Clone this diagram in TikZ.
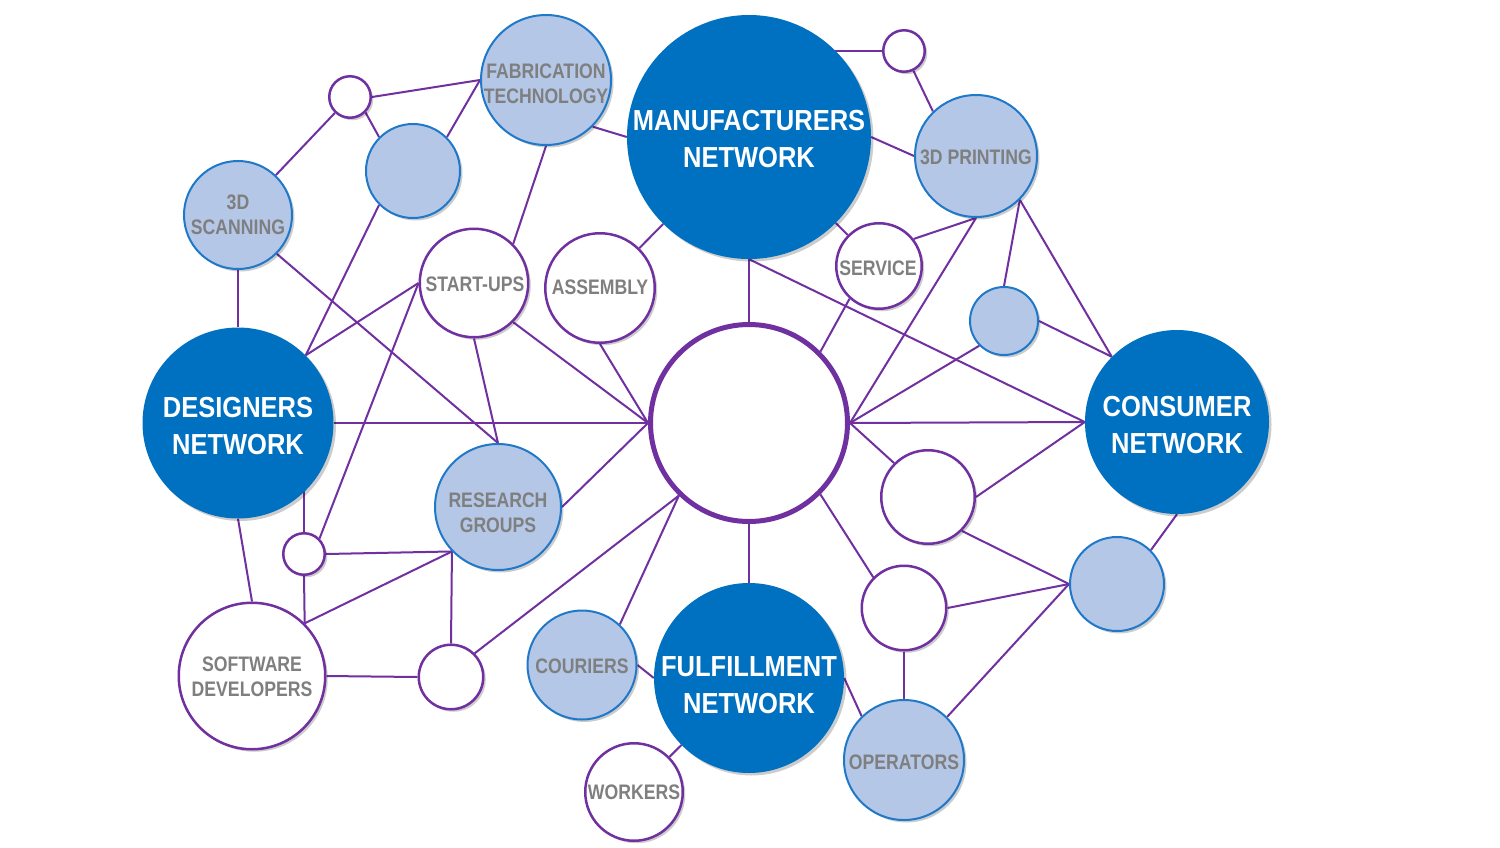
\documentclass[tikz,border=0pt]{standalone}
\usepackage{fontspec}
\setmainfont{Liberation Sans}
\newfontfamily\lblfont{Liberation Sans}[FakeStretch=0.84]
\newfontfamily\bigfont{Liberation Sans}[FakeStretch=0.88]
\usetikzlibrary{shadows,backgrounds}
\definecolor{dblue}{HTML}{0070C0}
\definecolor{lblue}{HTML}{B4C7E7}
\definecolor{lbord}{HTML}{1F78C8}
\definecolor{purp}{HTML}{7030A0}
\definecolor{gtext}{HTML}{7F7F7F}
\tikzset{
  shd/.style={drop shadow={shadow xshift=2.5pt,shadow yshift=-2.5pt,opacity=0.2,fill=black}},
  bigtxt/.style={inner sep=0pt, text=white, align=center,
    font=\bigfont\bfseries\fontsize{29}{37}\selectfont},
  smtxt/.style={inner sep=0pt, text=gtext, align=center,
    font=\lblfont\bfseries\fontsize{21}{25.5}\selectfont},
  bignet/.style={circle, fill=dblue, inner sep=0pt, shd},
  lbc/.style={circle, fill=lblue, draw=lbord, line width=2pt, inner sep=0pt, shd},
  wc/.style={circle, fill=white, draw=purp, line width=2.5pt, inner sep=0pt, shd},
  hubc/.style={circle, fill=white, draw=purp, line width=5pt, inner sep=0pt},
  link/.style={draw=purp, line width=2pt},
}
\begin{document}
\begin{tikzpicture}[x=1pt,y=-1pt]
\useasboundingbox (0,0) rectangle (1500,847);

% main network nodes
\node[bignet, minimum size=244, label={[bigtxt,yshift=-2pt]center:{MANUFACTURERS\\NETWORK}}] (MFG) at (749,137) {};
\node[bignet, minimum size=191, label={[bigtxt,yshift=-3pt]center:{DESIGNERS\\NETWORK}}] (DES) at (238,423) {};
\node[bignet, minimum size=184, label={[bigtxt,yshift=-3pt]center:{CONSUMER\\NETWORK}}] (CON) at (1177,422) {};
\node[bignet, minimum size=190, label={[bigtxt,yshift=-7pt]center:{FULFILLMENT\\NETWORK}}] (FUL) at (749,678) {};
\node[hubc, minimum size=197] (hub) at (749,423) {};

% light blue nodes
\node[lbc, minimum size=130, label={[smtxt,yshift=-4pt]center:{FABRICATION\\TECHNOLOGY}}] (FAB) at (546,80) {};
\node[lbc, minimum size=122, label={[smtxt,yshift=-1pt]center:{3D PRINTING}}] (P3D) at (976,156) {};
\node[lbc, minimum size=108, label={[smtxt]center:{3D\\SCANNING}}] (S3D) at (238,215) {};
\node[lbc, minimum size=94] (LB1) at (413,171) {};
\node[lbc, minimum size=68] (SLB) at (1004,321) {};
\node[lbc, minimum size=126, label={[smtxt,yshift=-6pt]center:{RESEARCH\\GROUPS}}] (RES) at (498,507) {};
\node[lbc, minimum size=109, label={[smtxt,yshift=-1pt]center:{COURIERS}}] (COU) at (582,665) {};
\node[lbc, minimum size=120, label={[smtxt,yshift=-2pt]center:{OPERATORS}}] (OPS) at (904,760) {};
\node[lbc, minimum size=94] (LBR) at (1117,584) {};

% white nodes
\node[wc, minimum size=41.5] (W5) at (350,97) {};
\node[wc, minimum size=41.5] (W1) at (904,51) {};
\node[wc, minimum size=41.5] (W4) at (304,554) {};
\node[wc, minimum size=64.5] (W3) at (451,677) {};
\node[wc, minimum size=108.5, label={[smtxt,xshift=1pt,yshift=-1pt]center:{START-UPS}}] (SU) at (474,283) {};
\node[wc, minimum size=109.5, label={[smtxt,yshift=1pt]center:{ASSEMBLY}}] (ASM) at (600,288) {};
\node[wc, minimum size=85.5, label={[smtxt,xshift=-1pt,yshift=-2pt]center:{SERVICE}}] (SERV) at (879,266) {};
\node[wc, minimum size=93.5] (WR) at (928,497) {};
\node[wc, minimum size=84.5] (W2) at (904,608) {};
\node[wc, minimum size=146.5, label={[smtxt,yshift=-1pt]center:{SOFTWARE\\DEVELOPERS}}] (SOFT) at (252,676) {};
\node[wc, minimum size=97.5, label={[smtxt]center:{WORKERS}}] (WORK) at (634,792) {};

\begin{scope}[on background layer]
\fill[white] (0,0) rectangle (1500,847);
\draw[link] (W1) -- (W1 -| MFG);
\draw[link] (W1) -- (P3D.134);
\draw[link] (MFG.east) -- (P3D.west);
\draw[link] (MFG) -- (hub);
\draw[link] (MFG.south) -- (CON.west);
\draw[link] (MFG) -- (ASM);
\draw[link] (MFG) -- (SERV);
\draw[link] (FAB.-45) -- (MFG.west);
\draw[link] (SERV.38) -- (P3D.south);
\draw[link] (SERV.228) -- (hub.45);
\draw[link] (P3D.south) -- (hub.east);
\draw[link] (P3D.-45) -- (SLB.north);
\draw[link] (P3D.-45) -- (CON.135);
\draw[link] (SLB.east) -- (CON.135);
\draw[link] (SLB.225) -- (hub.east);
\draw[link] (hub.east) -- (CON.west);
\draw[link] (hub.east) -- (WR.135);
\draw[link] (WR.east) -- (CON.west);
\draw[link] (WR.-45) -- (LBR.west);
\draw[link] (hub.-45) -- (W2.135);
\draw[link] (W2.east) -- (LBR.west);
\draw[link] (W2) -- (OPS);
\draw[link] (LBR.west) -- (OPS.45);
\draw[link] (LBR.45) -- (CON.south);
\draw[link] (FUL.east) -- (OPS.134);
\draw[link] (FUL) -- (hub);
\draw[link] (COU.east) -- (FUL.west);
\draw[link] (WORK) -- (FUL);
\draw[link] (COU.47) -- (hub.226);
\draw[link] (W3.45) -- (hub.226);
\draw[link] (RES.east) -- (hub.west);
\draw[link] (DES) -- (hub);
\draw[link] (SU.-45) -- (hub.west);
\draw[link] (ASM.south) -- (hub.west);
\draw[link] (S3D.-45) -- (RES.north);
\draw[link] (SU.south) -- (RES.north);
\draw[link] (SU.west) -- (DES.45);
\draw[link] (SU.west) -- (W4.45);
\draw[link] (FAB.south) -- (SU.45);
\draw[link] (W5.east) -- (FAB.west);
\draw[link] (FAB.west) -- (LB1.45);
\draw[link] (W5) -- (S3D);
\draw[link] (W5.-45) -- (LB1.135);
\draw[link] (LB1.225) -- (DES.45);
\draw[link] (S3D) -- (DES);
\draw[link] (DES.south) -- (SOFT.north);
\draw[link] (W4) -- (W4 |- DES);
\draw[link] (W4.east) -- (RES.224);
\draw[link] (W4.south) -- (SOFT.45);
\draw[link] (SOFT.45) -- (RES.224);
\draw[link] (RES.224) -- (W3.north);
\draw[link] (SOFT.east) -- (W3.west);
\end{scope}
\end{tikzpicture}
\end{document}
